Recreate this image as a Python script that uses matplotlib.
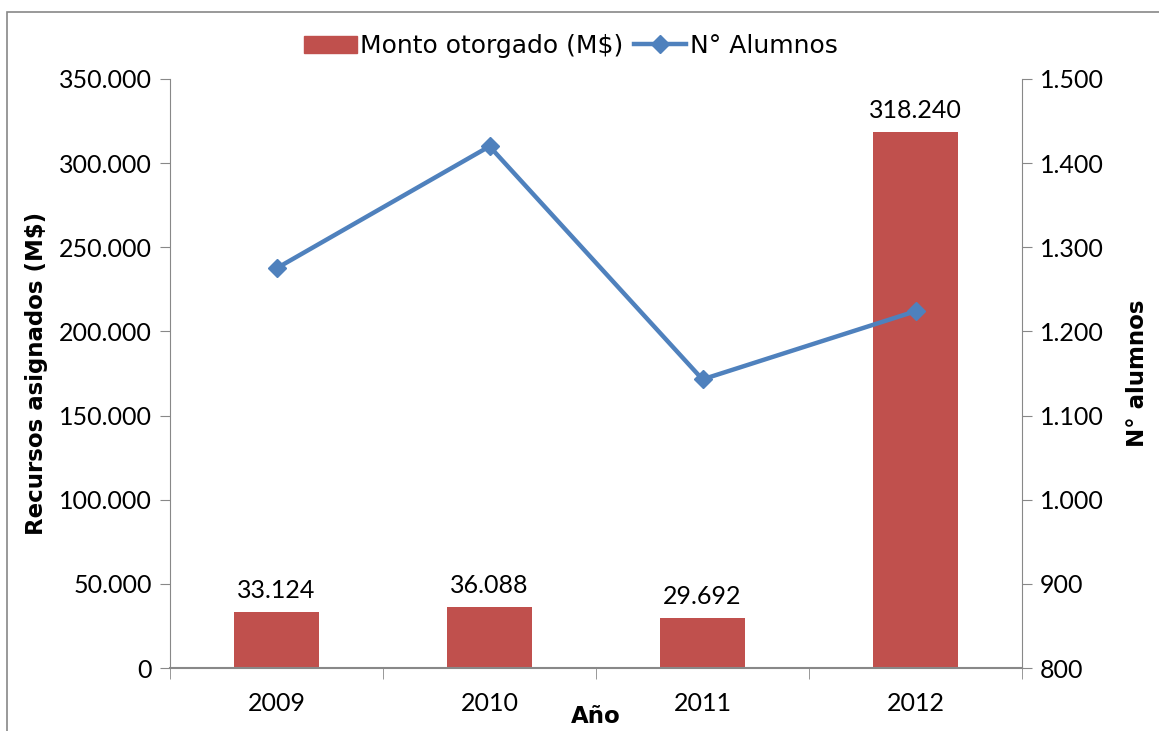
import matplotlib.pyplot as plt
from matplotlib.lines import Line2D
from matplotlib.patches import Patch, Rectangle
from matplotlib.ticker import FuncFormatter, FixedLocator

years = ['2009', '2010', '2011', '2012']
monto = [33124, 36088, 29692, 318240]
alumnos = [1275, 1420, 1143, 1224]

bar_color = '#C0504D'
line_color = '#4F81BD'
num_font = ['Lato', 'DejaVu Sans']
txt_font = ['DejaVu Sans']
plt.rcParams['font.family'] = num_font
num_size = 18


def miles(v, pos=None):
    return f'{int(round(v)):,}'.replace(',', '.')


fig = plt.figure(figsize=(11.59, 7.31), dpi=100)
# chart border (cropped on right/bottom)
fig.patches.append(Rectangle((7 / 1159, -0.1), 1.2, 1 - 12 / 731 + 0.1,
                             transform=fig.transFigure, fill=False,
                             edgecolor='#888888', linewidth=1.2))

ax = fig.add_axes([170 / 1159, 1 - 668 / 731, (1022 - 170) / 1159, (668 - 79) / 731])
x = list(range(len(years)))
ax.bar(x, monto, width=0.4, color=bar_color, zorder=2)
ax.set_xlim(-0.5, len(years) - 0.5)
ax.set_ylim(0, 350000)
ax.set_yticks(range(0, 350001, 50000))
ax.yaxis.set_major_formatter(FuncFormatter(miles))
ax.set_xticks(x)
ax.set_xticklabels(years)
ax.xaxis.set_minor_locator(FixedLocator([i - 0.5 for i in range(len(years) + 1)]))
ax.tick_params(axis='x', which='major', length=0, pad=17, labelsize=num_size)
ax.tick_params(axis='x', which='minor', length=8, color='#888888')
ax.tick_params(axis='y', length=7, color='#888888', labelsize=num_size, pad=6)
for s in ['top', 'right']:
    ax.spines[s].set_visible(False)
for s in ['left', 'bottom']:
    ax.spines[s].set_color('#888888')
ax.spines['bottom'].set_linewidth(1.5)

for xi, v in zip(x, monto):
    ax.text(xi, v + 6000, miles(v), ha='center', va='bottom', fontsize=num_size)

ax.set_ylabel('Recursos asignados (M$)', fontsize=16.5, fontweight='bold',
              family=txt_font, labelpad=8)
ax.set_xlabel('Año', fontsize=16.5, fontweight='bold', family=txt_font, labelpad=-7)

ax2 = ax.twinx()
ax2.plot(x, alumnos, color=line_color, linewidth=3.2, marker='D', markersize=9, zorder=3)
ax2.set_ylim(800, 1500)
ax2.set_yticks(range(800, 1501, 100))
ax2.yaxis.set_major_formatter(FuncFormatter(miles))
ax2.tick_params(axis='y', length=7, color='#888888', labelsize=num_size, pad=6)
for s in ['top', 'left', 'bottom']:
    ax2.spines[s].set_visible(False)
ax2.spines['right'].set_color('#888888')
ax2.set_ylabel('N° alumnos', fontsize=16.5, fontweight='bold', family=txt_font, labelpad=16)

handles = [Patch(color=bar_color),
           Line2D([], [], color=line_color, linewidth=3.2, marker='D', markersize=9)]
fig.legend(handles, ['Monto otorgado (M$)', 'N° Alumnos'], loc='center',
           bbox_to_anchor=(571 / 1159, 1 - 46 / 731), ncol=2, frameon=False,
           prop={'family': txt_font, 'size': 18}, handlelength=2.1,
           handletextpad=0.15, columnspacing=0.4)

fig.savefig('out.png', dpi=100)
